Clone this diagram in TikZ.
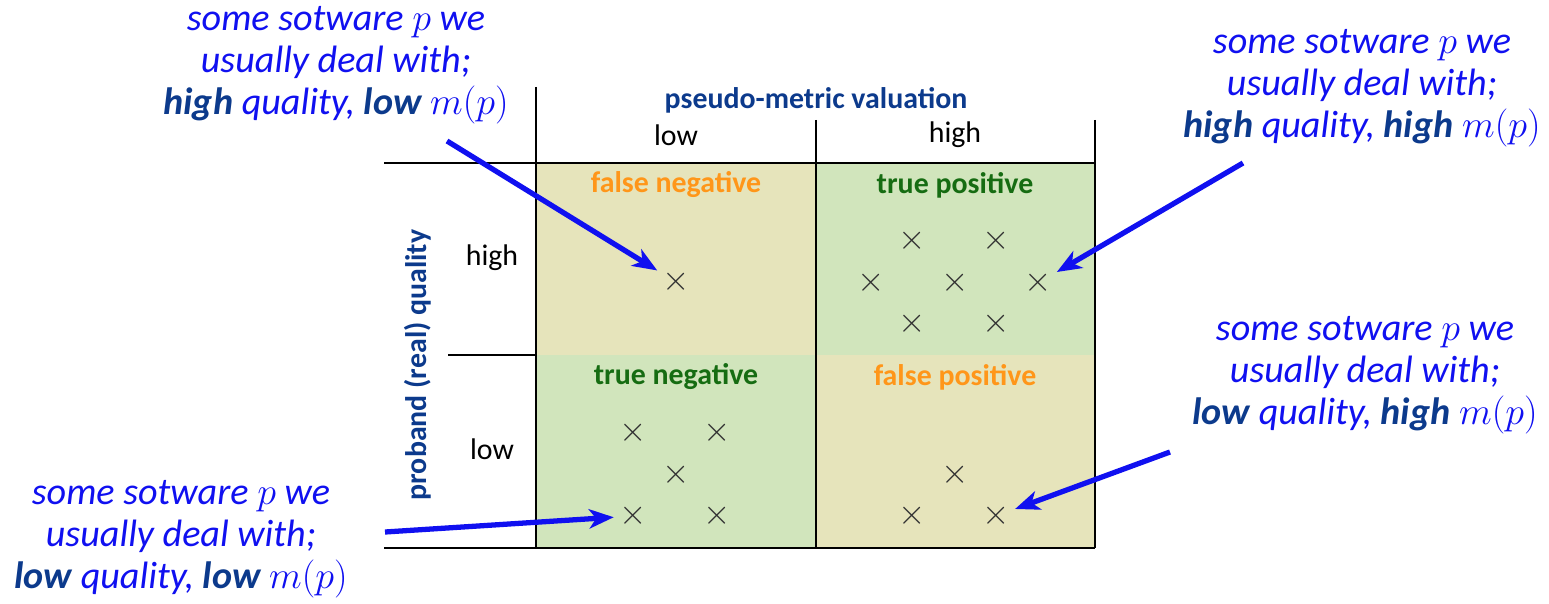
\RequirePackage{fix-cm}
\documentclass[tikz,border=0pt]{standalone}
\usepackage{fontspec}
\setmainfont{Carlito}
\usepackage{xcolor}
\usepackage{tikz}
\usetikzlibrary{arrows.meta}

\definecolor{notecol}{RGB}{16,16,240}
\definecolor{navy}{RGB}{12,58,140}
\definecolor{fnorange}{RGB}{255,150,25}
\definecolor{tpgreen}{RGB}{22,108,18}
\definecolor{beigecell}{RGB}{230,228,187}
\definecolor{greencell}{RGB}{209,229,188}

\newcommand{\bnote}[1]{{\bfseries\color{navy}#1}}

\tikzset{
  note/.style={text=notecol, align=center, font=\fontsize{21.7}{24}\selectfont\itshape},
  hdr/.style={font=\fontsize{17}{20}\selectfont},
  hdrbold/.style={text=navy, font=\fontsize{17}{20}\selectfont\bfseries},
  cellname/.style={font=\fontsize{17}{20}\selectfont\bfseries},
  probe/.style={text=black!80, font=\fontsize{20}{20}\selectfont, inner sep=1pt},
  pointer/.style={notecol, line width=3pt, shorten >=2pt,
    -{Stealth[length=14pt,width=11pt,inset=4pt]}},
}

\begin{document}
\begin{tikzpicture}
\useasboundingbox (0,0) rectangle (30.98,12.06);

% cells
\fill[beigecell] (10.72,4.96) rectangle (16.32,8.8);
\fill[greencell] (16.32,4.96) rectangle (21.9,8.8);
\fill[greencell] (10.72,1.1) rectangle (16.32,4.96);
\fill[beigecell] (16.32,1.1) rectangle (21.9,4.96);

% grid
\begin{scope}[line width=1pt]
\draw (10.72,10.32) -- (10.72,1.1);
\draw (16.32,9.66) -- (16.32,1.1);
\draw (21.9,9.66) -- (21.9,1.1);
\draw (7.68,8.8) -- (21.9,8.8);
\draw (8.96,4.96) -- (10.72,4.96);
\draw (7.68,1.1) -- (21.9,1.1);
\end{scope}

% headers
\node at (16.32,10.06) (metric)[hdrbold]{pseudo-metric valuation};
\node at (13.52,9.36) (mlow)[hdr]{low};
\node at (19.1,9.36) (mhigh)[hdr]{high};
\node at (8.36,4.76) (qual)[hdrbold, rotate=90]{proband (real) quality};
\node at (9.84,6.9) (qhigh)[hdr]{high};
\node at (9.84,3.08) (qlow)[hdr]{low};

\node at (13.52,8.36) (fnname)[cellname, text=fnorange]{false negative};
\node at (19.1,8.36) (tpname)[cellname, text=tpgreen]{true positive};
\node at (13.52,4.52) (tnname)[cellname, text=tpgreen]{true negative};
\node at (19.1,4.52) (fpname)[cellname, text=fnorange]{false positive};

% software samples
\node at (13.52,6.42) (fn1)[probe]{$\times$};
\foreach \x/\y [count=\i] in {18.24/7.24, 19.92/7.24, 17.42/6.4, 19.1/6.4, 20.76/6.4, 18.24/5.58, 19.92/5.58}
  \node at (\x,\y) (tp\i)[probe]{$\times$};
\foreach \x/\y [count=\i] in {12.66/3.4, 14.34/3.4, 13.52/2.56, 12.66/1.74, 14.34/1.74}
  \node at (\x,\y) (tn\i)[probe]{$\times$};
\foreach \x/\y [count=\i] in {19.1/2.56, 18.24/1.74, 19.92/1.74}
  \node at (\x,\y) (fp\i)[probe]{$\times$};

% notes
\node at (6.72,10.76) (hqlow)[note]{some sotware $p$ we\\usually deal with;\\\bnote{high} quality, \bnote{low} $m(p)$};
\node at (27.24,10.3) (hqhigh)[note]{some sotware $p$ we\\usually deal with;\\\bnote{high} quality, \bnote{high} $m(p)$};
\node at (27.3,4.56) (lqhigh)[note]{some sotware $p$ we\\usually deal with;\\\bnote{low} quality, \bnote{high} $m(p)$};
\node at (3.62,1.28) (lqlow)[note]{some sotware $p$ we\\usually deal with;\\\bnote{low} quality, \bnote{low} $m(p)$};

\coordinate (s1) at (8.94,9.24);
\coordinate (s2) at (24.86,8.8);
\coordinate (s3) at (23.4,3.02);
\coordinate (s4) at (7.7,1.42);
\draw[pointer] (s1) -- (fn1);
\draw[pointer] (s2) -- (tp5);
\draw[pointer] (s3) -- (fp3);
\draw[pointer] (s4) -- (tn4);
\end{tikzpicture}
\end{document}
